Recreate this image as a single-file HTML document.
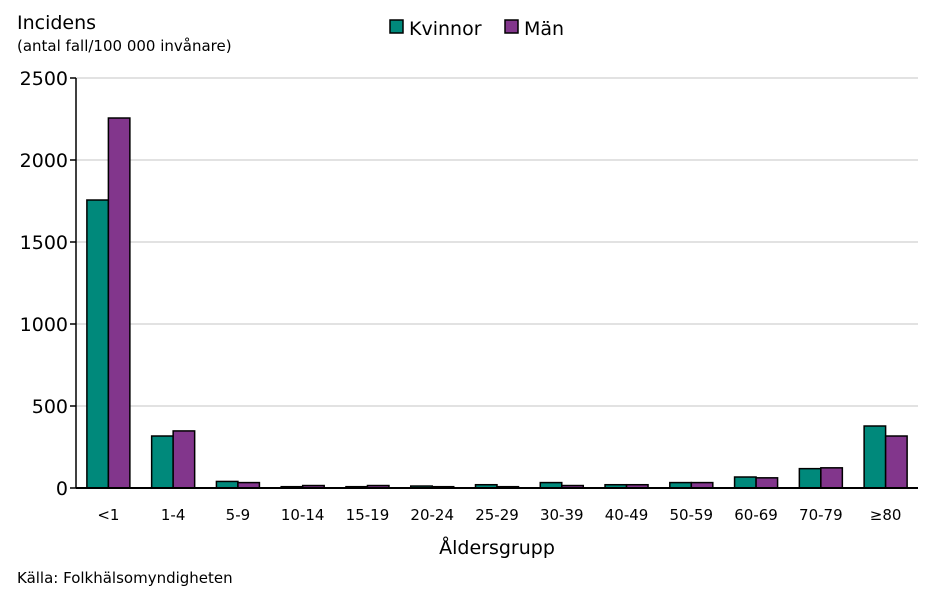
<!DOCTYPE html>
<html><head><meta charset="utf-8"><style>
body{margin:0;background:#fff;font-family:"Liberation Sans","DejaVu Sans",sans-serif;}
svg text{font-family:"DejaVu Sans","Liberation Sans",sans-serif;fill:#000;}
</style></head><body>
<svg width="945" height="591" viewBox="0 0 945 591">
<g id="grid"></g>
<g id="yt"></g>
<g id="bars"></g>
<g id="xt"></g>
<line x1="76" y1="78" x2="76" y2="488" stroke="#000" stroke-width="1.5"/>
<line x1="76" y1="488" x2="918" y2="488" stroke="#000" stroke-width="2"/>
<text x="17" y="29" font-size="19">Incidens</text>
<text x="17" y="51" font-size="15">(antal fall/100 000 invånare)</text>
<text x="497" y="554" font-size="19" text-anchor="middle">Åldersgrupp</text>
<text x="17" y="583" font-size="15">Källa: Folkhälsomyndigheten</text>
<g>
<rect x="390" y="20" width="13" height="13" fill="#00897b" stroke="#000" stroke-width="1.5"/>
<text x="409" y="35" font-size="19">Kvinnor</text>
<rect x="505" y="20" width="13" height="13" fill="#82368c" stroke="#000" stroke-width="1.5"/>
<text x="524" y="35" font-size="19">Män</text>
</g>
</svg>
<script>
const categories=["<1","1-4","5-9","10-14","15-19","20-24","25-29","30-39","40-49","50-59","60-69","70-79","≥80"];
const kvinnor=[1756,317,40,8,8,12,20,33,20,33,67,118,378];
const man=[2256,348,33,15,15,8,8,15,20,33,62,123,317];
const yTicks=[0,500,1000,1500,2000,2500];
const NS="http://www.w3.org/2000/svg";
const x0=76,x1=918,yb=488,yt=78,ymax=2500;
const y=v=>yb-(v/ymax)*(yb-yt);
const gw=(x1-x0)/categories.length;
function mk(t,a,p){const e=document.createElementNS(NS,t);for(const k in a)e.setAttribute(k,a[k]);p.appendChild(e);return e;}
const grid=document.getElementById('grid'),ytg=document.getElementById('yt'),bars=document.getElementById('bars'),xt=document.getElementById('xt');
yTicks.forEach(v=>{
 if(v>0){const l=mk('line',{x1:x0,x2:x1,y1:y(v),y2:y(v),stroke:'#d9d9d9','stroke-width':1.5},grid);
 
 }
 const tk=mk('line',{x1:x0-6,x2:x0,y1:y(v),y2:y(v),stroke:'#000','stroke-width':1.5},ytg);
 
 
 const t=mk('text',{x:x0-8,y:y(v)+7,'font-size':19,'text-anchor':'end'},ytg);t.textContent=v;
 
 
});
categories.forEach((c,i)=>{
 const cx=x0+gw*(i+0.5),bw=21.5;
 const a=mk('rect',{x:cx-bw,y:y(kvinnor[i]),width:bw,height:yb-y(kvinnor[i]),fill:'#00897b',stroke:'#000','stroke-width':1.5},bars);
 
 
 const b=mk('rect',{x:cx,y:y(man[i]),width:bw,height:yb-y(man[i]),fill:'#82368c',stroke:'#000','stroke-width':1.5},bars);
 
 
 const t=mk('text',{x:cx,y:520,'font-size':15,'text-anchor':'middle'},xt);t.textContent=c;
 
 
});
</script>
</body></html>
